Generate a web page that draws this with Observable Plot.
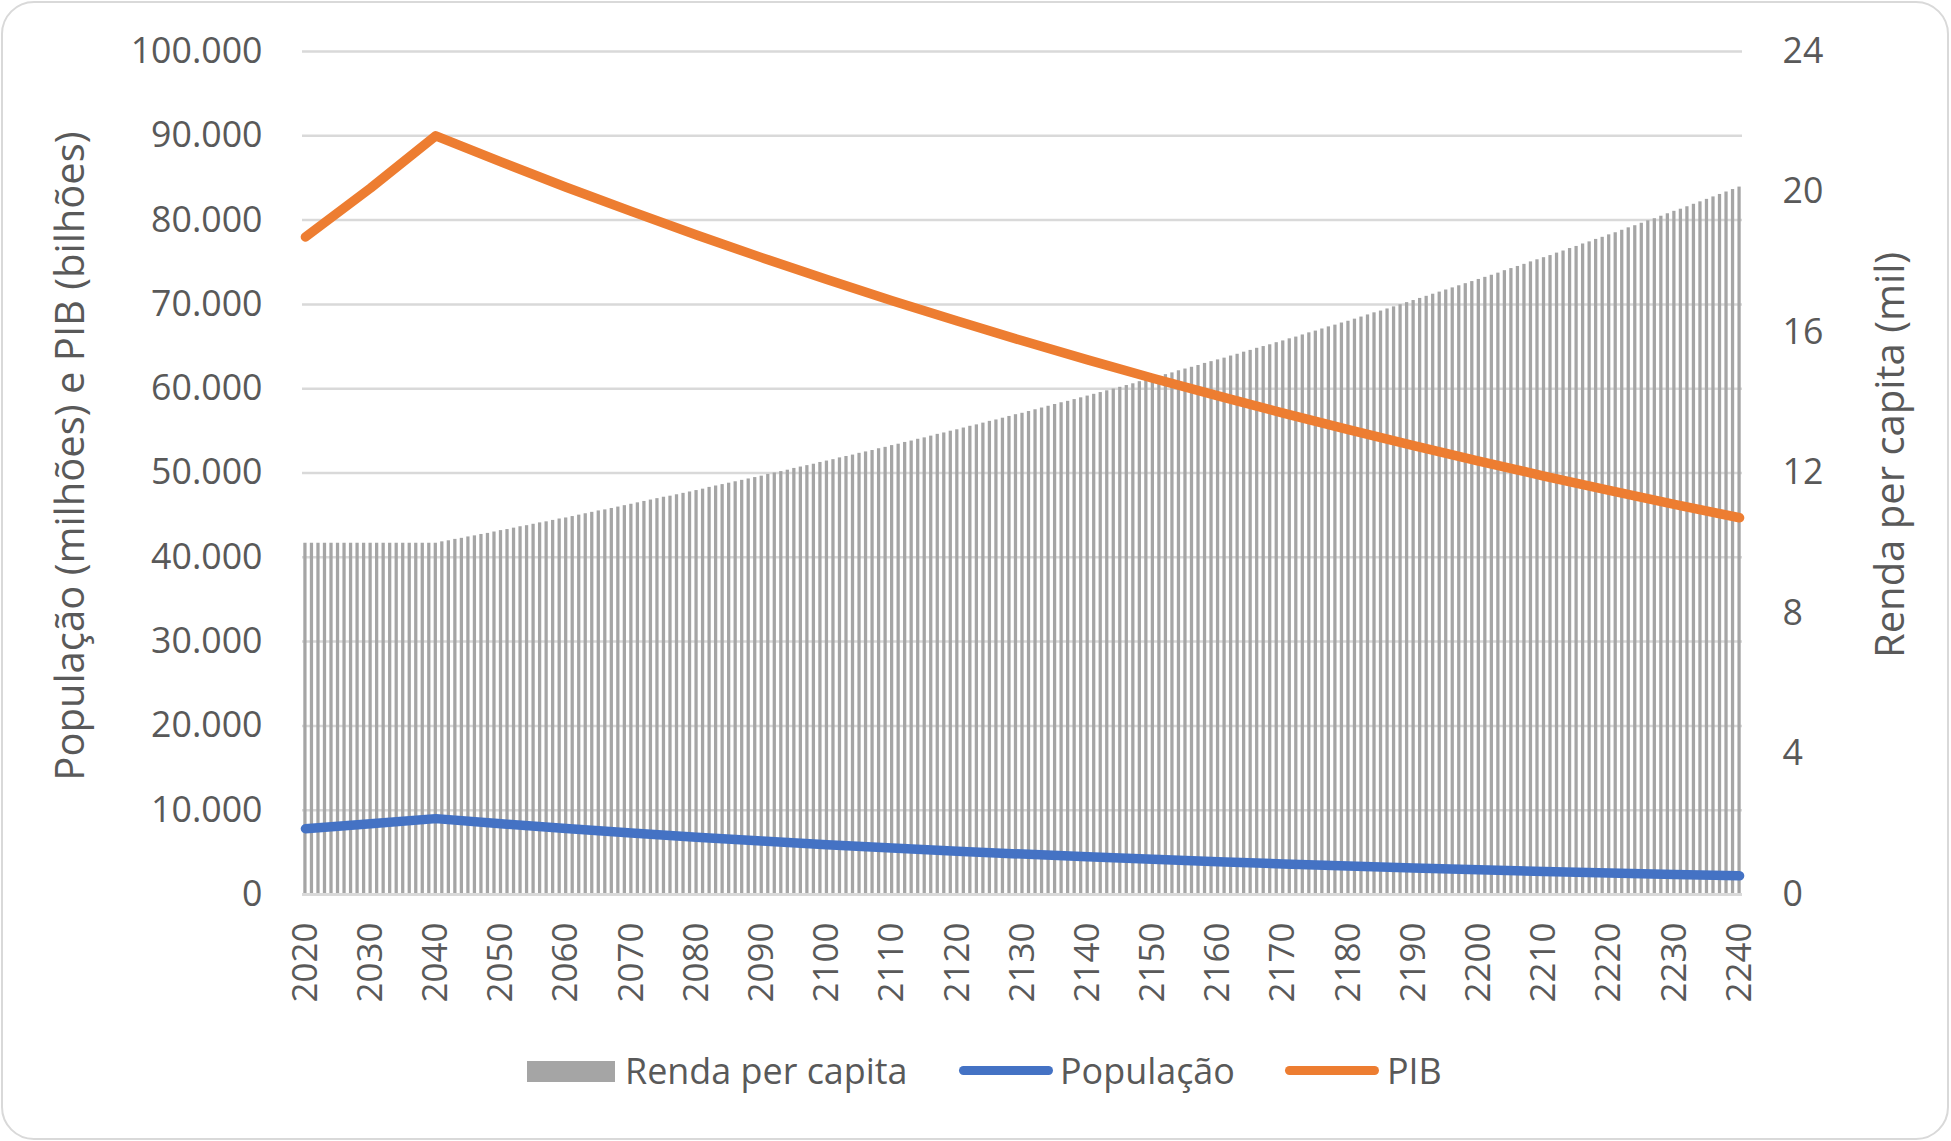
<!DOCTYPE html>
<html><head><meta charset="utf-8">
<script src="https://cdn.jsdelivr.net/npm/d3@7"></script>
<script src="https://cdn.jsdelivr.net/npm/@observablehq/plot@0.6"></script>
<style>
html,body{margin:0;padding:0;background:#fff;}
body{width:1951px;height:1141px;position:relative;overflow:hidden;font-family:"Open Sans",sans-serif;color:#595959;}
#frame{position:absolute;left:1px;top:1px;width:1948px;height:1139px;border:2.5px solid #d9d9d9;border-radius:33px;box-sizing:border-box;}
#chart{position:absolute;left:0;top:0;}
.lg{position:absolute;font-size:35.9px;line-height:40px;top:1051px;white-space:nowrap;color:#595959;}
.sw{position:absolute;}
</style></head><body>
<div id="frame"></div>
<div id="chart"></div>
<div id="legend"></div>
<script>
// ---- data ----
const years = d3.range(2020, 2241);
const renda = [
10.00,10.00,10.00,10.00,10.00,10.00,10.00,10.00,10.00,10.00,
10.00,10.00,10.00,10.00,10.00,10.00,10.00,10.00,10.00,10.00,
10.00,10.04,10.07,10.11,10.14,10.18,10.21,10.25,10.28,10.32,
10.36,10.39,10.43,10.47,10.50,10.54,10.58,10.61,10.65,10.69,
10.72,10.76,10.80,10.84,10.88,10.92,10.95,10.99,11.03,11.07,
11.11,11.15,11.19,11.23,11.27,11.31,11.34,11.38,11.42,11.46,
11.50,11.54,11.59,11.63,11.67,11.71,11.75,11.79,11.83,11.87,
11.91,11.96,12.00,12.04,12.08,12.13,12.17,12.21,12.25,12.30,
12.34,12.38,12.43,12.47,12.51,12.56,12.60,12.64,12.69,12.73,
12.78,12.82,12.87,12.91,12.96,13.00,13.05,13.10,13.14,13.19,
13.23,13.28,13.33,13.37,13.42,13.47,13.51,13.56,13.61,13.66,
13.70,13.75,13.80,13.85,13.90,13.95,14.00,14.04,14.09,14.14,
14.19,14.24,14.29,14.34,14.39,14.44,14.49,14.54,14.60,14.65,
14.70,14.75,14.80,14.85,14.91,14.96,15.01,15.06,15.12,15.17,
15.22,15.27,15.33,15.38,15.44,15.49,15.55,15.60,15.65,15.71,
15.76,15.82,15.87,15.93,15.99,16.04,16.10,16.16,16.21,16.27,
16.32,16.38,16.44,16.50,16.56,16.61,16.67,16.73,16.79,16.85,
16.91,16.97,17.03,17.09,17.15,17.21,17.27,17.33,17.39,17.45,
17.51,17.57,17.63,17.69,17.76,17.82,17.88,17.94,18.01,18.07,
18.13,18.19,18.26,18.32,18.39,18.45,18.52,18.58,18.65,18.71,
18.78,18.84,18.91,18.98,19.04,19.11,19.18,19.24,19.31,19.38,
19.45,19.51,19.58,19.65,19.72,19.79,19.86,19.93,20.00,20.07,
20.14
];
const lineYears = d3.range(2020, 2241, 10);
const populacao = [7800,8380,9000,8390,7820,7300,6800,6340,5910,5510,5140,4790,4470,4170,3890,3620,3380,3150,2940,2740,2550,2380,2220];
const pib = [78000,83800,90000,86900,83900,81030,78240,75550,72950,70440,68020,65680,63420,61240,59140,57100,55140,53240,51410,49640,47930,46290,44690];
const xTicks = d3.range(2020, 2241, 10);
const leftTicks = d3.range(0, 100001, 10000);
const rightTicks = [0, 4, 8, 12, 16, 20, 24];
const leftMax = 100000, rightMax = 24;
const leftTitle = "População (milhões) e PIB (bilhões)";
const rightTitle = "Renda per capita (mil)";
const series = [
  {name: "Renda per capita", color: "#A5A5A5", kind: "bar"},
  {name: "População", color: "#4472C4", kind: "line"},
  {name: "PIB", color: "#ED7D31", kind: "line"}
];

// ---- build ----
const k = leftMax / rightMax;
const fmt = d3.formatLocale({decimal: ",", thousands: ".", grouping: [3], currency: ["", ""]}).format(",");
const rendaData = years.map((year, i) => ({year, v: renda[i]}));
const popData = lineYears.map((year, i) => ({year, v: populacao[i]}));
const pibData = lineYears.map((year, i) => ({year, v: pib[i]}));

const chart = Plot.plot({
  width: 1951, height: 1040,
  marginLeft: 302, marginRight: 209, marginTop: 51, marginBottom: 146,
  style: {fontFamily: "Open Sans", fontSize: "35px", color: "#595959", background: "transparent", overflow: "visible"},
  x: {type: "band", domain: years, paddingInner: 0.5, paddingOuter: 0.2},
  y: {domain: [0, leftMax]},
  marks: [
    Plot.gridY(leftTicks, {stroke: "#d9d9d9", strokeOpacity: 1, strokeWidth: 2.5}),
    Plot.barY(rendaData, {x: "year", y: d => d.v * k, fill: series[0].color}),
    Plot.ruleY([0], {stroke: "#d9d9d9", strokeWidth: 3}),
    Plot.line(popData, {x: "year", y: "v", stroke: series[1].color, strokeWidth: 9.5, strokeLinecap: "round", strokeLinejoin: "round"}),
    Plot.line(pibData, {x: "year", y: "v", stroke: series[2].color, strokeWidth: 9.5, strokeLinecap: "round", strokeLinejoin: "round"}),
    Plot.axisY({anchor: "left", ticks: leftTicks, tickFormat: fmt, tickSize: 0, tickPadding: 40, fontSize: 35.7, label: null}),
    Plot.axisY({anchor: "right", ticks: rightTicks.map(v => v * k), tickFormat: d => String(Math.round(d / k)), tickSize: 0, tickPadding: 40, fontSize: 35.7, label: null}),
    Plot.axisX({ticks: xTicks, tickFormat: d => String(d), tickRotate: -90, tickSize: 0, tickPadding: 28, fontSize: 35, label: null}),
    Plot.text([leftTitle], {text: d => d, frameAnchor: "left", textAnchor: "middle", dx: -231, dy: -17, rotate: -90, fontSize: 40, fill: "#595959"}),
    Plot.text([rightTitle], {text: d => d, frameAnchor: "right", textAnchor: "middle", dx: 149, dy: -18, rotate: -90, fontSize: 40, fill: "#595959"})
  ]
});
document.getElementById("chart").appendChild(chart);

// ---- legend ----
const legendPos = [
  {sw: 527, tx: 625},
  {sw: 959, tx: 1060},
  {sw: 1285, tx: 1387}
];
const lg = document.getElementById("legend");
series.forEach((s, i) => {
  const sw = document.createElement("div");
  sw.className = "sw";
  sw.style.left = legendPos[i].sw + "px";
  sw.style.background = s.color;
  if (s.kind === "bar") {
    sw.style.top = "1061px"; sw.style.width = "88px"; sw.style.height = "21px";
  } else {
    sw.style.top = "1066px"; sw.style.width = "94px"; sw.style.height = "9px"; sw.style.borderRadius = "5px";
  }
  lg.appendChild(sw);
  const t = document.createElement("div");
  t.className = "lg";
  t.style.left = legendPos[i].tx + "px";
  t.textContent = s.name;
  lg.appendChild(t);
});
</script>
</body></html>
